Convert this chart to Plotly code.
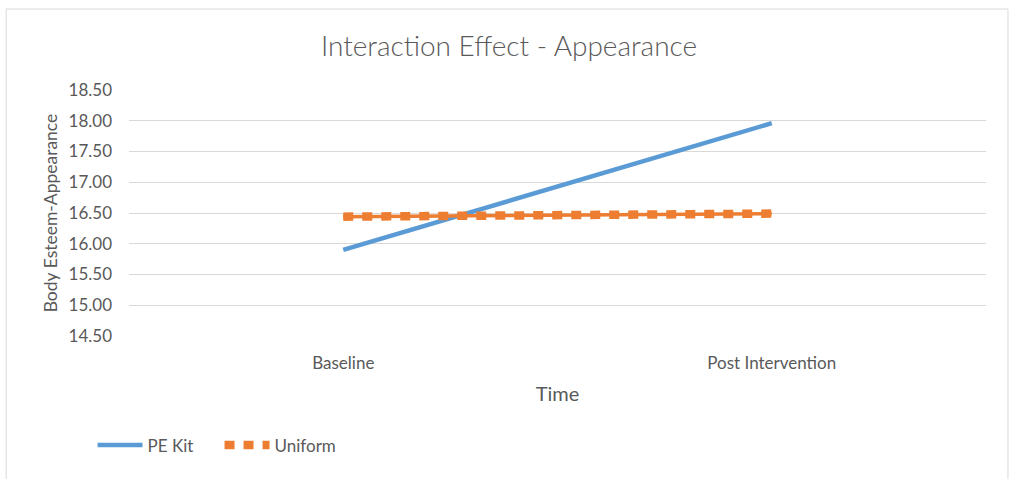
import plotly.graph_objects as go

# Data
time_points = ["Baseline", "Post Intervention"]
pe_kit = [15.90, 17.96]
uniform = [16.44, 16.49]
y_ticks = [14.5, 15.0, 15.5, 16.0, 16.5, 17.0, 17.5, 18.0, 18.5]

BLUE = "#5B9BD5"
ORANGE = "#ED7D31"
TEXT = "#595959"
GRID = "#D9D9D9"
FONT = "Lato"

fig = go.Figure()

fig.add_trace(go.Scatter(
    x=time_points, y=pe_kit, name="PE Kit", mode="lines",
    line=dict(color=BLUE, width=4.5),
))
# Uniform: solid base line with a square-dot pattern laid over it
fig.add_trace(go.Scatter(
    x=time_points, y=uniform, name="Uniform", mode="lines",
    legendgroup="uniform", showlegend=False,
    line=dict(color=ORANGE, width=3.5),
))
fig.add_trace(go.Scatter(
    x=time_points, y=uniform, name="Uniform", mode="lines",
    legendgroup="uniform",
    line=dict(color=ORANGE, width=8.5, dash="10px,9px"),
))

W, H = 1010, 479
L, R, T, B = 128.5, 23.5, 90.3, 143.3
pw, ph = W - L - R, H - T - B

def px_x(v):
    return (v - L) / pw

def px_y(v):
    return (H - B - v) / ph

fig.update_layout(
    width=W, height=H,
    margin=dict(l=L, r=R, t=T, b=B),
    paper_bgcolor="white", plot_bgcolor="white",
    font=dict(family=FONT, color=TEXT, size=17),
    title=dict(
        text="Interaction Effect - Appearance",
        x=509 / W, xanchor="center", xref="container",
        y=1 - 46 / H, yanchor="middle", yref="container",
        font=dict(size=28, color=TEXT, family=FONT, weight=300),
    ),
    xaxis=dict(
        type="category", range=[-0.5, 1.5],
        showgrid=False, zeroline=False, showline=False,
        ticks="", ticklabelstandoff=15,
        tickfont=dict(size=17, color=TEXT),
        title=dict(text="Time", font=dict(size=20, color=TEXT), standoff=14),
    ),
    yaxis=dict(
        range=[14.5, 18.5], tickvals=y_ticks,
        tickformat=".2f",
        showgrid=True, gridcolor=GRID, gridwidth=1,
        zeroline=False, showline=False,
        ticks="", ticklabelstandoff=16,
        tickfont=dict(size=17, color=TEXT),
        title=dict(text="Body Esteem-Appearance", font=dict(size=17.5, color=TEXT), standoff=6),
    ),
    legend=dict(
        orientation="h",
        x=px_x(92), xanchor="left",
        y=px_y(445), yanchor="middle",
        font=dict(size=17, color=TEXT),
        itemwidth=45,
        entrywidth=67, entrywidthmode="pixels",
        bgcolor="rgba(0,0,0,0)",
    ),
    shapes=[dict(
        type="rect", xref="paper", yref="paper",
        x0=px_x(5.5), x1=px_x(1008.5), y0=px_y(490), y1=px_y(9.5),
        line=dict(color=GRID, width=1), fillcolor="rgba(0,0,0,0)",
        layer="below",
    )],
)

fig.write_html("out.html")
